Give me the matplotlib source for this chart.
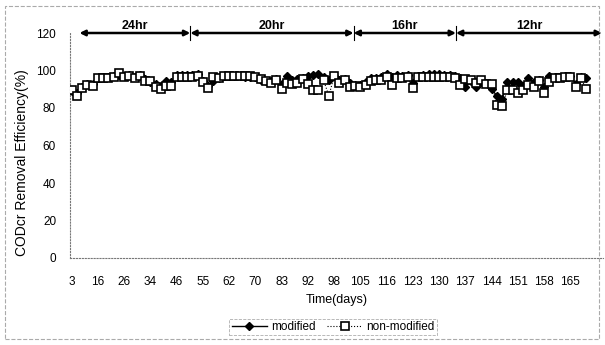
import matplotlib
matplotlib.use('Agg')
import matplotlib.pyplot as plt
from matplotlib.patches import Rectangle
import numpy as np

plt.rcParams['font.family'] = ['Liberation Sans', 'DejaVu Sans']

# day labels shown on the category axis (every 5th sample)
tick_days = [3, 16, 26, 34, 46, 55, 62, 70, 83, 92, 98, 105, 116, 123, 130,
             137, 144, 151, 158, 165]

# COD removal efficiency (%) per sample
modified = [
    89.0, 88.0, 91.0, 93.0, 93.0, 96.0, 96.5, 96.5, 97.0, 97.5,
    97.0, 97.5, 96.5, 97.5, 95.5, 94.0, 93.0, 92.0, 94.5, 94.0,
    97.5, 97.5, 97.5, 97.5, 98.0, 94.5, 92.0, 94.5, 96.0, 97.0,
    97.0, 97.0, 97.0, 96.5, 96.5, 96.5, 95.0, 94.5, 94.5, 95.5,
    93.0, 97.0, 95.0, 95.5, 96.0, 97.0, 97.5, 98.0, 96.5, 95.0,
    97.0, 95.0, 95.5, 93.5, 92.5, 92.5, 94.0, 96.0, 96.0, 96.5,
    98.0, 96.5, 97.5, 97.0, 97.5, 93.5, 97.0, 97.5, 98.0, 98.0,
    98.0, 97.5, 97.5, 97.0, 96.0, 91.0, 94.5, 91.0, 94.0, 93.5,
    90.0, 86.5, 85.0, 94.0, 94.0, 94.0, 91.7, 95.8, 94.0, 95.0,
    91.0, 96.9, 96.5, 96.5, 97.0, 97.0, 93.0, 96.4, 96.0,
]
non_modified = [
    89.6, 86.4, 90.5, 92.3, 91.7, 95.8, 95.8, 95.8, 96.7, 98.5,
    96.7, 97.0, 95.8, 97.0, 94.6, 94.6, 91.0, 90.0, 91.7, 91.7,
    96.7, 96.7, 96.7, 96.7, 97.0, 94.0, 90.5, 96.4, 95.8, 97.0,
    97.0, 97.0, 97.3, 97.0, 97.0, 96.5, 95.3, 94.2, 93.5, 94.7,
    90.2, 93.5, 93.0, 93.5, 95.3, 93.0, 89.4, 89.4, 94.7, 86.5,
    97.0, 93.5, 94.7, 91.2, 92.0, 91.2, 92.5, 94.2, 94.7, 94.7,
    96.5, 92.5, 96.0, 96.0, 96.5, 90.7, 96.3, 96.3, 96.5, 96.5,
    96.5, 96.5, 96.5, 96.0, 92.5, 95.5, 95.0, 93.5, 95.0, 93.0,
    92.8, 81.6, 81.0, 89.6, 89.6, 88.0, 89.6, 92.3, 91.4, 94.6,
    88.0, 94.0, 95.8, 95.8, 96.4, 96.7, 91.0, 95.8, 90.0,
]

# HRT phases: label and boundaries in sample index
phases = ['24hr', '20hr', '16hr', '12hr']
phase_edges = [1.5, 22.6, 53.7, 73.2, 101.0]

x = np.arange(len(modified))

fig = plt.figure(figsize=(6.05, 3.45), dpi=100)
ax = fig.add_axes([70 / 605, 87 / 345, 533 / 605, 225 / 345])

ax.plot(x, modified, color='black', lw=1.0, marker='D', markersize=4,
        markerfacecolor='black', markeredgecolor='black', label='modified', zorder=3)
ax.plot(x, non_modified, color='black', lw=0.8, ls=':', marker='s', markersize=5.5,
        markerfacecolor='white', markeredgecolor='black', markeredgewidth=1.2,
        label='non-modified', zorder=4)

ax.set_xlim(-0.3, 101.2)
ax.set_ylim(0, 120)
ax.set_yticks(range(0, 121, 20))
ax.set_xticks(x[::5][:len(tick_days)])
ax.set_xticklabels([str(d) for d in tick_days])
ax.tick_params(axis='x', length=0, pad=13, labelsize=8.5)
ax.tick_params(axis='y', length=0, pad=10, labelsize=8.5)

for s in ['top', 'right']:
    ax.spines[s].set_visible(False)
for s in ['left', 'bottom']:
    ax.spines[s].set_linestyle(':')
    ax.spines[s].set_color('#777777')
    ax.spines[s].set_linewidth(0.8)

# phase arrows along the top
for i, name in enumerate(phases):
    a, b = phase_edges[i], phase_edges[i + 1]
    ax.annotate('', xy=(b, 120), xytext=(a, 120), annotation_clip=False,
                arrowprops=dict(arrowstyle='<|-|>', color='black', lw=1.8,
                                mutation_scale=8, shrinkA=0, shrinkB=0))
    ax.text((a + b) / 2, 123.5, name, ha='center', va='center',
            fontsize=9, fontweight='bold', clip_on=False)
for e in phase_edges[1:-1]:
    ax.plot([e, e], [116.5, 123.5], color='black', lw=0.8, clip_on=False)

ax.set_xlabel('Time(days)', fontsize=9, labelpad=4)
fig.text(22 / 605, 1 - 163 / 345, 'CODcr Removal Efficiency(%)', rotation=90,
         ha='center', va='center', fontsize=10)

leg = fig.legend(loc='center', bbox_to_anchor=(333 / 605, 1 - 327 / 345), ncol=2,
                 fontsize=8.5, frameon=True, fancybox=False, handlelength=3,
                 columnspacing=1.0, handletextpad=0.3, borderpad=0.2)
leg.get_frame().set_edgecolor('#999999')
leg.get_frame().set_linestyle('--')
leg.get_frame().set_linewidth(0.6)

fig.patches.append(Rectangle((5 / 605, 6 / 345), 594 / 605, 333 / 345,
                             transform=fig.transFigure, fill=False,
                             edgecolor='#aaaaaa', lw=0.8, ls='--'))

fig.savefig('out.png', dpi=100)
